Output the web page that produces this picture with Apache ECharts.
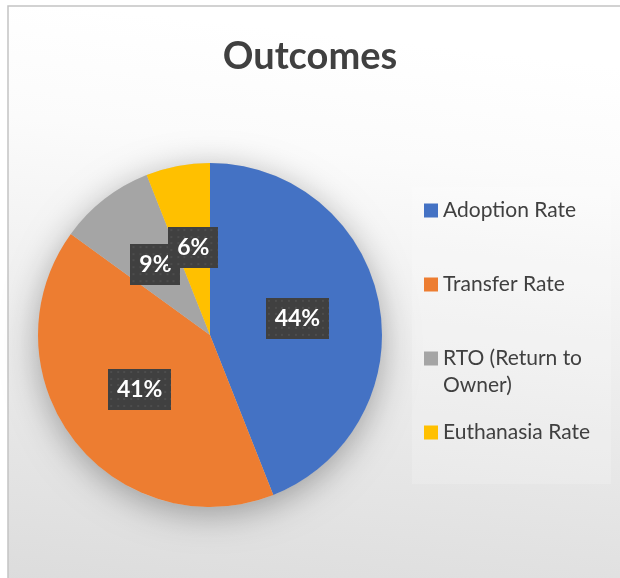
<!DOCTYPE html>
<html>
<head>
<meta charset="utf-8">
<script src="https://cdn.jsdelivr.net/npm/echarts@6/dist/echarts.min.js"></script>
<style>
html,body{margin:0;padding:0;background:#fff;}
#chart{width:620px;height:578px;}
</style>
</head>
<body>
<div id="chart"></div>
<script>
const categories = ['Adoption Rate', 'Transfer Rate', 'RTO (Return to Owner)', 'Euthanasia Rate'];
const values = [44, 41, 9, 6];
const colors = ['#4472C4', '#ED7D31', '#A5A5A5', '#FFC000'];
const titleText = 'Outcomes';

function makeBg(w, h) {
  const c = document.createElement('canvas');
  c.width = w; c.height = h;
  const ctx = c.getContext('2d');
  ctx.fillStyle = '#404040';
  ctx.fillRect(0, 0, w, h);
  ctx.fillStyle = '#4d4d4d';
  for (let y = 2; y < h; y += 6.7) {
    for (let x = 2; x < w; x += 6.7) {
      ctx.fillRect(Math.round(x), Math.round(y), 2, 2);
    }
  }
  return c;
}

const chart = echarts.init(document.getElementById('chart'));
const FONT = 'Lato, "Open Sans", sans-serif';

const pieData = categories.map((name, i) => {
  const txt = values[i] + '%';
  const w = txt.length === 3 ? 47 : 34;
  return {
    name: name,
    value: values[i],
    itemStyle: { color: colors[i] },
    label: {
      width: w,
      backgroundColor: { image: makeBg(w + 16, 41) }
    }
  };
});

const option = {
  backgroundColor: '#ffffff',
  animation: false,
  graphic: [
    {
      type: 'rect', z: -10, silent: true,
      shape: { x: 8, y: 6, width: 640, height: 620 },
      style: {
        fill: new echarts.graphic.LinearGradient(0.1, 0, 0, 0.93, [
          { offset: 0, color: '#ffffff' },
          { offset: 0.2, color: '#fbfbfb' },
          { offset: 0.55, color: '#ededed' },
          { offset: 1, color: '#dcdcdc' }
        ]),
        stroke: '#c3c3c3', lineWidth: 1.5
      }
    },
    {
      type: 'rect', z: -5, silent: true,
      shape: { x: 412, y: 187, width: 199, height: 297 },
      style: { fill: 'rgba(255,255,255,0.18)' }
    },
    {
      type: 'text', silent: true, z: 10,
      left: 443, top: 375,
      style: { text: 'Owner)', font: '21px ' + FONT, fill: '#404040' }
    }
  ],
  title: {
    text: titleText,
    left: 'center',
    top: 33,
    textStyle: { fontFamily: FONT, fontWeight: 'bold', fontSize: 38, color: '#404040' }
  },
  legend: {
    orient: 'vertical',
    left: 424,
    top: 200,
    padding: 0,
    itemWidth: 14,
    itemHeight: 14,
    itemGap: 53,
    selectedMode: false,
    icon: 'rect',
    data: categories,
    formatter: function (name) {
      return name === 'RTO (Return to Owner)' ? 'RTO (Return to' : name;
    },
    textStyle: { fontFamily: FONT, fontSize: 21, color: '#404040' }
  },
  series: [
    {
      type: 'pie',
      name: 'shadow',
      silent: true,
      center: [210, 335],
      radius: [0, 172],
      z: 1,
      label: { show: false },
      labelLine: { show: false },
      data: [{ value: 1, name: '_shadow', itemStyle: { color: '#cccccc', shadowBlur: 34, shadowColor: 'rgba(0,0,0,0.32)', shadowOffsetY: 7 } }]
    },
    {
      type: 'pie',
      name: 'Outcomes',
      center: [210, 335],
      radius: [0, 172],
      startAngle: 90,
      clockwise: true,
      z: 2,
      silent: true,
      avoidLabelOverlap: false,
      labelLayout: { hideOverlap: false },
      itemStyle: { borderWidth: 0 },
      label: {
        show: true,
        position: 'inside',
        formatter: '{c}%',
        color: '#ffffff',
        fontFamily: FONT,
        fontWeight: 'bold',
        fontSize: 23,
        lineHeight: 23,
        align: 'center',
        overflow: 'none',
        padding: [9, 8, 9, 8],
        shadowBlur: 6,
        shadowColor: 'rgba(0,0,0,0.45)',
        shadowOffsetX: 3,
        shadowOffsetY: 3
      },
      labelLine: { show: false },
      data: pieData
    }
  ]
};
chart.setOption(option);
</script>
</body>
</html>
